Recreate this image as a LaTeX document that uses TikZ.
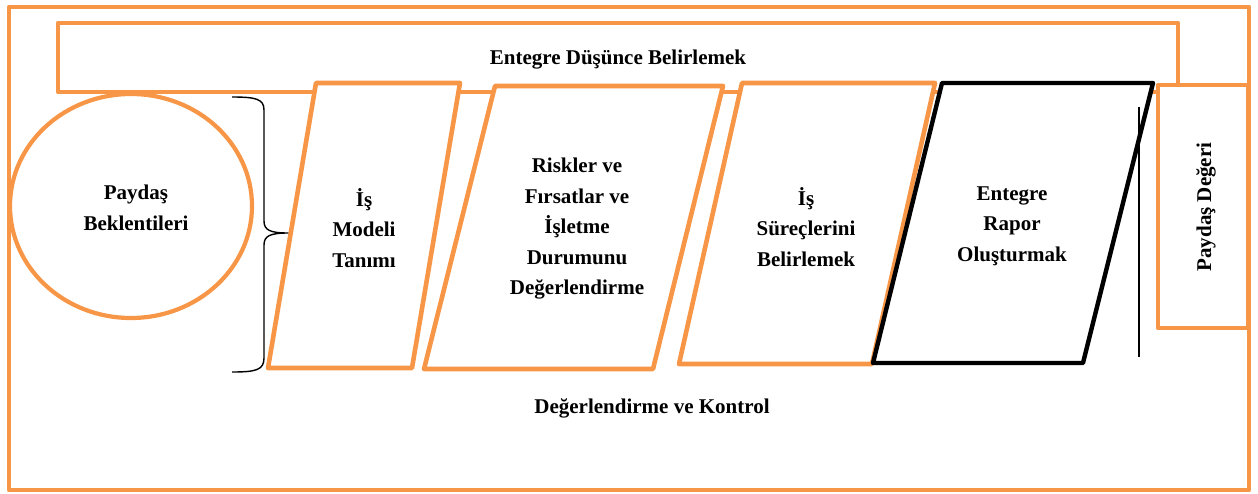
\documentclass[tikz,border=0pt]{standalone}
\usepackage{fontspec}
\setmainfont{Liberation Serif}
\usetikzlibrary{shapes}

\definecolor{turuncu}{HTML}{F79646}

\begin{document}
\begin{tikzpicture}[x=1pt,y=-1pt,line join=round,font=\fontsize{21}{30.5}\selectfont\bfseries]
\tikzstyle{kutu}=[draw=turuncu,line width=4.6pt,fill=white]
\tikzstyle{siyah}=[draw=black,line width=4.4pt,fill=white]
\tikzstyle{yazi}=[align=center,text=black,inner sep=0pt]
\useasboundingbox (0,0) rectangle (1258,493);

% cerceveler
\draw[kutu,fill=none,line width=4.2pt] (9,7) rectangle (1249,490);
\draw[kutu] (58,23) rectangle (1178,92);
\draw[kutu,line width=4.2pt] (131,206) ellipse (121pt and 112pt);

% adimlar
\draw[kutu] (316,83) -- (460,83) -- (412,368) -- (268,368) -- cycle;
\draw[kutu] (495,86) -- (723,86) -- (653,369) -- (424,369) -- cycle;
\draw[kutu] (742,83) -- (935,83) -- (872,364) -- (679,364) -- cycle;
\draw[siyah] (942,83) -- (1153,83) -- (1083,363) -- (873,363) -- cycle;
\draw[kutu] (1158,85) rectangle (1248,328);
\draw[black,line width=1.3pt] (1139,107) -- (1139,357);

% parantez
\draw[black,line width=1.4pt] (232,97) .. controls (256,97) and (264,99) .. (264,110)
      -- (264,221) .. controls (264,230) and (270,233) .. (288,233)
      .. controls (270,233) and (264,236) .. (264,245)
      -- (264,358) .. controls (264,370) and (256,372) .. (232,372);

\node[yazi] (ED) at (618,60) {Entegre Düşünce Belirlemek};
\node[yazi] (PB) at (136,208) {Paydaş\\Beklentileri};
\node[yazi] (IM) at (364,228) {İş\\Modeli\\Tanımı};
\node[yazi] (RF) at (577,229) {Riskler ve\\Fırsatlar ve\\İşletme\\Durumunu\\Değerlendirme};
\node[yazi] (IS) at (806,227) {İş\\Süreçlerini\\Belirlemek};
\node[yazi] (ER) at (1012,226) {Entegre\\Rapor\\Oluşturmak};
\node[yazi,rotate=90] (PD) at (1206,207) {Paydaş Değeri};
\node[yazi] (DK) at (652,408) {Değerlendirme ve Kontrol};
\end{tikzpicture}
\end{document}
